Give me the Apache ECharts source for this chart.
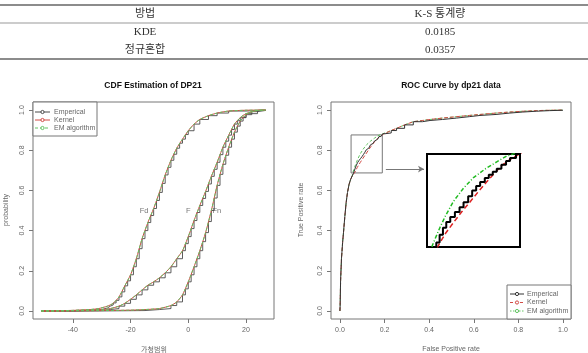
<!DOCTYPE html>
<html><head><meta charset="utf-8">
<script src="https://cdn.jsdelivr.net/npm/echarts/dist/echarts.min.js"></script>
<style>html,body{margin:0;padding:0;background:#fff}#c{width:588px;height:353px}</style>
</head><body><div id="c"></div>
<script>
// ---------- table ----------
const tableHeader = ['방법', 'K-S 통계량'];
const tableMethods = ['KDE', '정규혼합'];
const tableKS = ['0.0185', '0.0357'];

// ---------- ticks ----------
const cdfXTicks = [-40, -20, 0, 20];
const probTicks = [0, 0.2, 0.4, 0.6, 0.8, 1.0];
const rocXTicks = [0, 0.2, 0.4, 0.6, 0.8, 1.0];
const legendNames = ['Emperical', 'Kernel', 'EM algorithm'];

// ---------- CDF: smooth estimates (Kernel / EM overlap) ----------
const fdX    = [-51,-45,-40,-37,-34,-31,-28,-26,-24,-22,-20,-18,-16,-14,-12,-10,-8,-6,-4,-2,0,2,4,7,10,14,20,26.8];
const fdProb = [0,0.001,0.003,0.005,0.007,0.012,0.024,0.038,0.07,0.125,0.18,0.26,0.36,0.44,0.51,0.59,0.677,0.75,0.81,0.855,0.897,0.93,0.953,0.972,0.985,0.995,0.999,1];
const fX     = [-51,-45,-40,-35,-30,-27,-24,-22,-20,-18,-16,-14,-12,-10,-8,-6,-4,-2,0,2,4,6,8,10,12,14,16,18,20,24,26.8];
const fProb  = [0,0.001,0.002,0.004,0.007,0.012,0.024,0.038,0.058,0.08,0.105,0.128,0.145,0.165,0.19,0.22,0.26,0.3,0.37,0.45,0.525,0.595,0.67,0.74,0.815,0.875,0.93,0.962,0.982,0.998,1];
const fnX    = [-51,-40,-30,-20,-15,-10,-6,-4,-2,0,2,4,6,8,10,12,14,16,18,20,22,24,26.8];
const fnProb = [0,0.0005,0.002,0.004,0.007,0.012,0.027,0.045,0.08,0.145,0.22,0.3,0.39,0.5,0.625,0.73,0.815,0.89,0.945,0.977,0.992,0.998,1];

// ---------- CDF: empirical (step) ----------
const fdEmpX    = [-51,-40,-34,-30,-28,-27,-26,-25,-24,-23,-22,-21,-20,-19,-18,-17,-16,-15,-14,-13,-12,-11,-10,-9,-8,-7,-6,-5,-4,-3,-2,-1,0,2,4,7,10,14,20,26.8];
const fdEmpProb = [0,0.003,0.007,0.015,0.024,0.03,0.04,0.053,0.07,0.095,0.125,0.15,0.18,0.22,0.26,0.31,0.36,0.4,0.44,0.475,0.51,0.55,0.59,0.635,0.677,0.715,0.75,0.78,0.81,0.835,0.855,0.878,0.897,0.93,0.953,0.972,0.985,0.995,0.999,1];
const fEmpX     = [-51,-40,-30,-27,-24,-22,-20,-18,-16,-14,-12,-10,-8,-6,-4,-2,-1,0,1,2,3,4,5,6,7,8,9,10,11,12,13,14,15,16,17,18,20,24,26.8];
const fEmpProb  = [0,0.002,0.007,0.012,0.024,0.038,0.058,0.08,0.105,0.128,0.145,0.165,0.19,0.22,0.26,0.3,0.335,0.37,0.41,0.45,0.49,0.525,0.56,0.595,0.632,0.67,0.705,0.74,0.778,0.815,0.845,0.875,0.903,0.93,0.947,0.962,0.982,0.998,1];
const fnEmpX    = [-51,-30,-15,-10,-6,-4,-2,-1,0,1,2,3,4,5,6,7,8,9,10,11,12,13,14,15,16,17,18,19,20,22,24,26.8];
const fnEmpProb = [0,0.002,0.007,0.012,0.027,0.045,0.08,0.11,0.145,0.18,0.22,0.26,0.3,0.345,0.39,0.445,0.5,0.562,0.625,0.68,0.73,0.775,0.815,0.855,0.89,0.92,0.945,0.963,0.977,0.992,0.998,1];

const curveLabels = ['Fd', 'F', 'Fn'];
const curveLabelX = [-15.3, 0, 9.9];
const curveLabelY = [0.5, 0.5, 0.5];

// ---------- ROC ----------
const rocLowFpr = [0, 0.001, 0.003, 0.007, 0.012, 0.016, 0.022, 0.028, 0.034, 0.041, 0.048, 0.055];
const rocLowTpr = [0, 0.03, 0.15, 0.26, 0.34, 0.39, 0.47, 0.54, 0.59, 0.63, 0.655, 0.672];
const rocEmpMidFpr = [0.060,0.064,0.069,0.074,0.079,0.085,0.092,0.099,0.105,0.112,0.118,0.124,0.130,0.137,0.143,0.149,0.155,0.162,0.169,0.175,0.184,0.192];
const rocEmpMidTpr = [0.683,0.696,0.712,0.726,0.738,0.748,0.758,0.768,0.778,0.790,0.802,0.811,0.819,0.827,0.834,0.840,0.846,0.854,0.862,0.868,0.876,0.882];
const rocKerMidFpr = [0.062,0.0675,0.078,0.0906,0.102,0.1144,0.127,0.1396,0.151,0.162,0.173,0.1844,0.195];
const rocKerMidTpr = [0.678,0.691,0.715,0.738,0.758,0.778,0.799,0.819,0.836,0.852,0.863,0.872,0.880];
const rocEmMidFpr  = [0.058,0.062,0.070,0.078,0.090,0.1046,0.120,0.138,0.155,0.170,0.19];
const rocEmMidTpr  = [0.69,0.703,0.728,0.751,0.780,0.806,0.828,0.846,0.860,0.872,0.881];
const rocHighFpr = [0.202,0.23,0.254,0.29,0.329,0.37,0.404,0.46,0.523,0.58,0.628,0.70,0.762,0.82,0.88,0.94,1.0];
const rocHighTpr = [0.886,0.898,0.909,0.926,0.942,0.948,0.953,0.96,0.967,0.973,0.978,0.985,0.99,0.994,0.997,0.999,1.0];

const insetXRange = [0.05, 0.19];
const insetYRange = [0.687, 0.876];
const arrowFrom = [0.206, 0.706];
const arrowTo = [0.377, 0.706];

// ---------- helpers ----------
const zip = (xs, ys) => xs.map((x, i) => [x, ys[i]]);
const rocCurve = (mf, mt) => zip(rocLowFpr.concat(mf, rocHighFpr), rocLowTpr.concat(mt, rocHighTpr));
const rocEmp = rocCurve(rocEmpMidFpr, rocEmpMidTpr);
const rocKer = rocCurve(rocKerMidFpr, rocKerMidTpr);
const rocEm  = rocCurve(rocEmMidFpr, rocEmMidTpr);

const SANS = 'Liberation Sans, Arial, sans-serif';
const SERIF = 'Liberation Serif, DejaVu Serif, Noto Sans CJK KR, serif';
const KR = 'Noto Sans CJK KR, sans-serif';
const GRAY = '#777';
const TXT = '#666';
const C_EMP = '#4a4a4a', C_KER = '#d24b45', C_EM = '#62c462';

function xAxisCfg(grid, min, max, ticks, fmt) {
  return {
    gridIndex: grid, type: 'value', min: min, max: max, position: 'bottom',
    axisLine: { show: false, onZero: false },
    axisTick: { show: true, length: 4, customValues: ticks, lineStyle: { color: GRAY, width: 1 } },
    axisLabel: { customValues: ticks, color: TXT, fontSize: 7, fontFamily: SANS, margin: 8, formatter: fmt },
    splitLine: { show: false }
  };
}
function yAxisCfg(grid, min, max, ticks) {
  return {
    gridIndex: grid, type: 'value', min: min, max: max, position: 'left',
    axisLine: { show: false, onZero: false },
    axisTick: { show: true, length: 4, customValues: ticks, lineStyle: { color: GRAY, width: 1 } },
    axisLabel: { customValues: ticks, color: TXT, fontSize: 7, fontFamily: SANS, margin: 7, rotate: 90,
                 formatter: v => Number(v).toFixed(1) },
    splitLine: { show: false }
  };
}
const hiddenAxis = (grid, r) => ({ gridIndex: grid, type: 'value', min: r[0], max: r[1], show: false,
  axisLine: {show:false, onZero:false}, axisTick:{show:false}, axisLabel:{show:false}, splitLine:{show:false} });

function line(data, xi, color, width, dash, step, extra) {
  return Object.assign({
    type: 'line', xAxisIndex: xi, yAxisIndex: xi, data: data, showSymbol: false, symbol: 'none',
    silent: true, animation: false, clip: true, step: step || false,
    lineStyle: { color: color, width: width, type: dash || 'solid' }
  }, extra || {});
}

const series = [];
// left CDF
[[fdEmpX, fdEmpProb], [fEmpX, fEmpProb], [fnEmpX, fnEmpProb]].forEach(p =>
  series.push(line(zip(p[0], p[1]), 0, C_EMP, 0.9, 'solid', 'end')));
[[fdX, fdProb], [fX, fProb], [fnX, fnProb]].forEach(p =>
  series.push(line(zip(p[0], p[1]), 0, C_KER, 1, 'solid', false, { smooth: 0.2 })));
[[fdX, fdProb], [fX, fProb], [fnX, fnProb]].forEach(p =>
  series.push(line(zip(p[0], p[1]), 0, C_EM, 1, [3, 2], false, { smooth: 0.2 })));
series.push({
  type: 'scatter', xAxisIndex: 0, yAxisIndex: 0, symbolSize: 0, silent: true, animation: false,
  data: curveLabels.map((n, i) => ({ name: n, value: [curveLabelX[i], curveLabelY[i]] })),
  label: { show: true, position: 'inside', formatter: p => p.name, color: '#555', fontSize: 7.5, fontFamily: SANS }
});
// right ROC
series.push(line(rocEm, 1, C_EM, 1, [3, 2]));
series.push(line(rocKer, 1, C_KER, 1, [4, 2]));
series.push(line(rocEmp, 1, '#333', 1, 'solid', 'end', {
  markArea: { silent: true, itemStyle: { color: 'rgba(0,0,0,0)', borderColor: GRAY, borderWidth: 1 },
    data: [[{ coord: [insetXRange[0], insetYRange[1]] }, { coord: [insetXRange[1], insetYRange[0]] }]] },
  markLine: { silent: true, symbol: ['none', 'arrow'], symbolSize: [5, 6], label: { show: false },
    lineStyle: { color: GRAY, width: 1, type: 'solid' },
    data: [[{ coord: arrowFrom }, { coord: arrowTo }]] }
}));
// inset
series.push(line(rocEm, 2, '#22bb22', 1.5, [4, 2, 1, 2]));
series.push(line(rocKer, 2, '#dd2222', 1.5, [5, 3]));
series.push(line(rocEmp, 2, '#000', 2, 'solid', 'end'));

// graphic: titles, axis names, legends, table
const g = [];
const txt = (x, y, text, size, opts) => Object.assign({
  type: 'text', x: x, y: y, silent: true,
  style: Object.assign({ text: text, fontSize: size, fontFamily: SANS, fill: '#333',
    align: 'center', verticalAlign: 'middle', textAlign: 'center', textVerticalAlign: 'middle' }, (opts && opts.style) || {})
}, opts && opts.rotation ? { rotation: opts.rotation } : {});
// table
g.push({ type: 'line', silent: true, shape: { x1: 0, y1: 5, x2: 588, y2: 5 }, style: { stroke: '#666', lineWidth: 1.5 } });
g.push({ type: 'line', silent: true, shape: { x1: 0, y1: 23, x2: 588, y2: 23 }, style: { stroke: '#999', lineWidth: 1 } });
g.push({ type: 'line', silent: true, shape: { x1: 0, y1: 59, x2: 588, y2: 59 }, style: { stroke: '#666', lineWidth: 1.5 } });
g.push(txt(145, 14.5, tableHeader[0], 11, { style: { fontFamily: SERIF, fill: '#333' } }));
g.push(txt(440, 14.5, tableHeader[1], 11, { style: { fontFamily: SERIF, fill: '#333' } }));
tableMethods.forEach((m, i) => {
  g.push(txt(145, 32.5 + i * 17.5, m, 11, { style: { fontFamily: SERIF, fill: '#333' } }));
  g.push(txt(440, 32.5 + i * 17.5, tableKS[i], 11, { style: { fontFamily: SERIF, fill: '#333' } }));
});
// titles
g.push(txt(153, 86, 'CDF Estimation of DP21', 8.5, { style: { fontWeight: 'bold', fill: '#111' } }));
g.push(txt(451, 86, 'ROC Curve by dp21 data', 8.5, { style: { fontWeight: 'bold', fill: '#111' } }));
// axis names
g.push(txt(154, 349, '가청범위', 7, { style: { fontFamily: KR, fill: TXT } }));
g.push(txt(451, 349, 'False Positive rate', 7, { style: { fill: TXT } }));
g.push(txt(6, 210, 'probability', 7, { style: { fill: TXT }, rotation: Math.PI / 2 }));
g.push(txt(301, 210, 'True Positive rate', 7, { style: { fill: TXT }, rotation: Math.PI / 2 }));
// legends
function legend(x0, y0, w, h, rows, lx1, lx2, tx, cols, dashes) {
  g.push({ type: 'rect', silent: true, shape: { x: x0, y: y0, width: w, height: h }, style: { fill: '#fff', stroke: GRAY, lineWidth: 1 }, z: 10 });
  rows.forEach((yy, i) => {
    g.push({ type: 'line', silent: true, z: 11, shape: { x1: lx1, y1: yy, x2: lx2, y2: yy }, style: { stroke: cols[i], lineWidth: 1, lineDash: dashes[i] } });
    g.push({ type: 'circle', silent: true, z: 11, shape: { cx: (lx1 + lx2) / 2, cy: yy, r: 1.6 }, style: { fill: '#fff', stroke: cols[i], lineWidth: 1 } });
    g.push(Object.assign(txt(tx, yy, legendNames[i], 7, { style: { fill: TXT, align: 'left', textAlign: 'left' } }), { z: 11 }));
  });
}
legend(33, 102, 64, 34, [112, 120, 128], 35, 50, 54, [C_EMP, C_KER, C_EM], [null, null, [3, 2]]);
legend(507, 285, 64, 34, [294, 302.5, 311], 510, 524, 527, ['#333', C_KER, C_EM], [null, [3, 2], [1.5, 1.5]]);

const option = {
  backgroundColor: '#fff',
  animation: false,
  grid: [
    { left: 33, top: 102, width: 241, height: 217, show: true, borderColor: GRAY, borderWidth: 1, backgroundColor: 'transparent', containLabel: false },
    { left: 331, top: 102, width: 240, height: 217, show: true, borderColor: GRAY, borderWidth: 1, backgroundColor: 'transparent', containLabel: false },
    { left: 427, top: 154, width: 93, height: 93, show: true, borderColor: '#000', borderWidth: 2, backgroundColor: '#fff', containLabel: false }
  ],
  xAxis: [
    xAxisCfg(0, -53.8, 29.7, cdfXTicks, v => String(v)),
    xAxisCfg(1, -0.04, 1.036, rocXTicks, v => Number(v).toFixed(1)),
    hiddenAxis(2, insetXRange)
  ],
  yAxis: [
    yAxisCfg(0, -0.04, 1.04, probTicks),
    yAxisCfg(1, -0.04, 1.04, probTicks),
    hiddenAxis(2, insetYRange)
  ],
  series: series,
  graphic: g
};
const chart = echarts.init(document.getElementById('c'), null, { renderer: 'canvas' });
chart.setOption(option);
</script>
</body></html>
